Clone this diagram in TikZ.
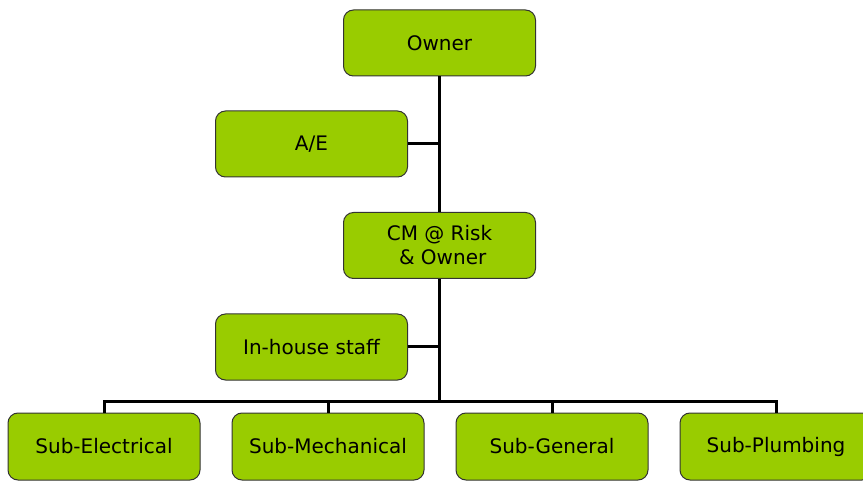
\documentclass[tikz,border=0pt]{standalone}
\usepackage{fontspec}
\setmainfont{DejaVu Sans}
\definecolor{boxgreen}{HTML}{99CC00}
\definecolor{boxedge}{HTML}{333333}
\begin{document}
\begin{tikzpicture}[x=1pt,y=-1pt,
  orgbox/.style={draw=boxedge, line width=1pt, fill=boxgreen, rounded corners=10pt,
    minimum width=192pt, minimum height=66pt, inner sep=0pt, align=center,
    font=\fontsize{20pt}{24pt}\selectfont, text=black},
  link/.style={draw=black, line width=3pt}]
\useasboundingbox (0,0) rectangle (863,481);
\clip (0,0) rectangle (863,481);
\node[orgbox] (owner) at (439.5,43) {Owner};
\node[orgbox] (ae) at (311.5,144) {A/E};
\node[orgbox] (cm) at (439.5,245.5) {CM @ Risk\\\ \& Owner};
\node[orgbox] (ih) at (311.5,347) {In-house staff};
\node[orgbox, minimum height=67pt] (se) at (104,446.5) {Sub-Electrical};
\node[orgbox, minimum height=67pt] (sm) at (328,446.5) {Sub-Mechanical};
\node[orgbox, minimum height=67pt] (sg) at (552,446.5) {Sub-General};
\node[orgbox, minimum height=67pt] (sp) at (776,446.5) {Sub-Plumbing};
\coordinate (bus) at (439.5,401);
\draw[link] (owner.south) -- (cm.north);
\draw[link] (cm.south) -- (bus);
\draw[link] (ae.east) -- (ae.east -| owner.south);
\draw[link] (ih.east) -- (ih.east -| cm.south);
\draw[link] (se.north) |- (bus) -| (sp.north);
\draw[link] (sm.north) -- (sm.north |- bus);
\draw[link] (sg.north) -- (sg.north |- bus);
\end{tikzpicture}
\end{document}
